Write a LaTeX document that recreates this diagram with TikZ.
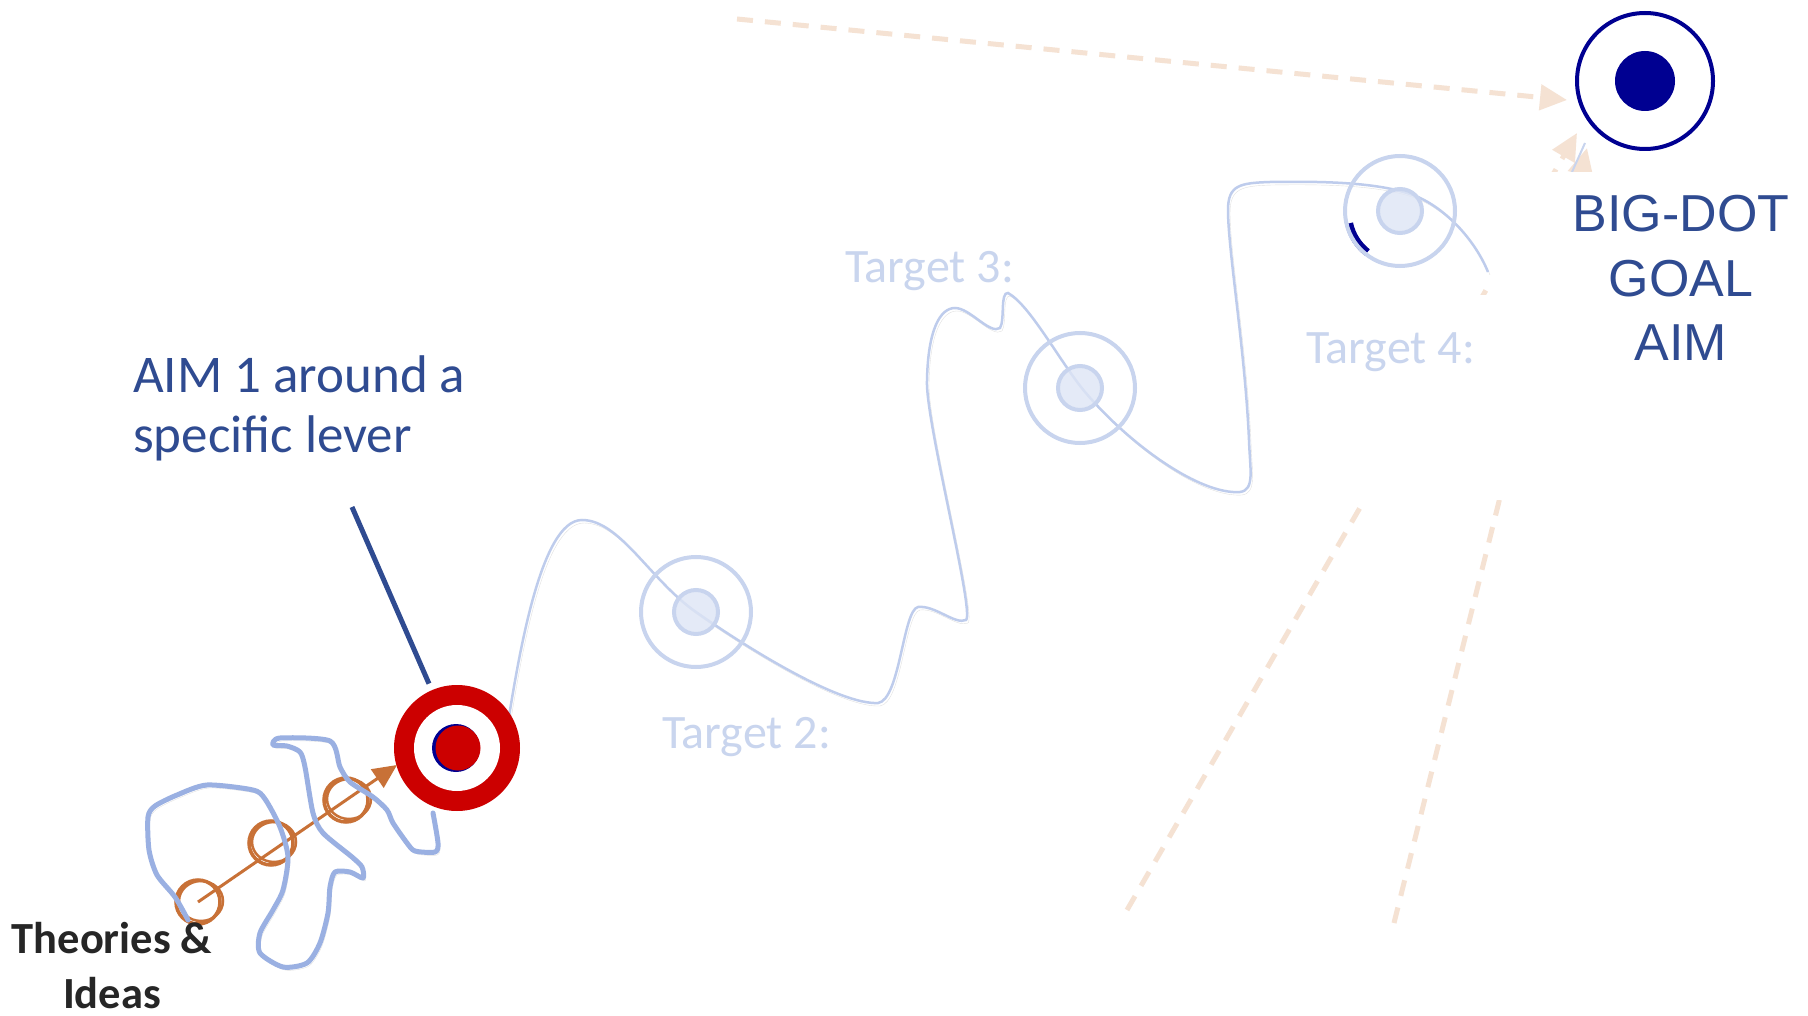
\documentclass[tikz,border=0pt]{standalone}
\usepackage{fontspec}
\setmainfont{Carlito}
\newfontfamily\arialf{Liberation Sans}
\usetikzlibrary{arrows.meta}
\definecolor{navy}{RGB}{0,0,145}
\definecolor{txtblue}{RGB}{47,75,145}
\definecolor{redt}{RGB}{204,0,0}
\definecolor{fadeline}{RGB}{200,212,238}
\definecolor{wavec}{RGB}{190,204,236}
\definecolor{fadefill}{RGB}{222,229,245}
\definecolor{fadetext}{RGB}{201,213,238}
\definecolor{peach}{RGB}{245,226,211}
\definecolor{orangeb}{RGB}{200,113,55}
\definecolor{blobc}{RGB}{154,176,226}
\definecolor{darktxt}{RGB}{38,38,38}
\tikzset{
  dashline/.style={peach, line width=5, dash pattern=on 16pt off 12pt},
  peachtip/.style={-{Triangle[length=27,width=25]}},
  fadering/.style={circle, draw=fadeline, line width=4, minimum size=110, inner sep=0, fill=white, fill opacity=0},
  fadedot/.style={circle, draw=fadeline, fill=fadefill, fill opacity=0.8, line width=4, minimum size=44, inner sep=0},
  oring/.style={circle, draw=orangeb, line width=3.5, minimum size=44, inner sep=0},
  shadowed/.style={preaction={draw=black, draw opacity=0.12, transform canvas={shift={(2pt,-3pt)}}}},
  fadelbl/.style={text=fadetext, font=\fontsize{48}{54}\selectfont, inner sep=0, anchor=base west},
  aimlbl/.style={text=txtblue, font=\fontsize{53}{60}\selectfont, inner sep=0, anchor=base west},
  goallbl/.style={text=txtblue, font=\arialf\fontsize{52}{58}\selectfont, inner sep=0, anchor=base},
  thlbl/.style={text=darktxt, font=\bfseries\fontsize{44.5}{50}\selectfont, inner sep=0, anchor=base},
}
\begin{document}
\begin{tikzpicture}[x=1pt,y=-1pt]
\useasboundingbox (0,0) rectangle (1808,1016);
\fill[white] (0,0) rectangle (1808,1016);

% big goal
\node[circle, draw=navy, line width=4, minimum size=136, inner sep=0] (goal) at (1645,81) {};
\node[circle, fill=navy, minimum size=60, inner sep=0] (goaldot) at (goal.center) {};

% peach dashed arrows
\coordinate (d1s) at (737,19);
\coordinate (d1e) at (1567,100);
\draw[dashline, peachtip] (d1s) -- (d1e);
\coordinate (d2s) at (1127,910);
\coordinate (d2e) at (1577,133);
\draw[dashline, peachtip] (d2s) -- (d2e);
\coordinate (d3s) at (1394,923);
\coordinate (d3e) at (1587,148);
\draw[dashline, peachtip] (d3s) -- (d3e);
\coordinate (bs1) at (1585,143);
\coordinate (bs2) at (1572,172);
\draw[fadeline, line width=2] (bs1) -- (bs2);

% white masks (text boxes hiding parts of the lines)
\fill[white] (1488,172) rectangle (1808,500);
\fill[white] (1290,295) rectangle (1488,505);

% wavy path
\draw[wavec, line width=2.5, shadowed]
  (506,735) .. controls (518,660) and (540,520) .. (582,520)
  .. controls (620,520) and (650,580) .. (696,612)
  .. controls (750,650) and (840,705) .. (878,703)
  .. controls (900,700) and (903,610) .. (918,607)
  .. controls (935,605) and (955,625) .. (966,620)
  .. controls (975,612) and (925,420) .. (927,380)
  .. controls (928,330) and (940,308) .. (955,308)
  .. controls (970,308) and (990,335) .. (1000,328)
  .. controls (1005,320) and (1000,292) .. (1008,293)
  .. controls (1030,305) and (1060,362) .. (1085,392)
  .. controls (1130,445) and (1200,495) .. (1240,492)
  .. controls (1255,490) and (1250,470) .. (1249,440)
  .. controls (1245,350) and (1228,250) .. (1228,210)
  .. controls (1228,185) and (1240,183) .. (1270,182)
  .. controls (1330,181) and (1380,183) .. (1413,195)
  .. controls (1445,207) and (1475,240) .. (1488,272);

% faded targets
\draw[navy, line width=8] (1398,213) ++(128:50) arc[start angle=128, end angle=168, radius=50];
\node[fadering] (t2) at (696,612) {};
\node[fadedot] (t2d) at (t2.center) {};
\node[fadering] (t3) at (1080,388) {};
\node[fadedot] (t3d) at (t3.center) {};
\node[fadering] (t4) at (1400,211) {};
\node[fadedot] (t4d) at (t4.center) {};

\node[fadelbl] (l2) at (662,748) {Target 2:};
\node[fadelbl] (l3) at (845,283) {Target 3:};
\node[fadelbl] (l4) at (1306,363) {Target 4:};

% red target
\node[circle, fill=redt, minimum size=126, inner sep=0] (t1) at (457,748) {};
\node[circle, fill=white, minimum size=86, inner sep=0] (t1w) at (t1.center) {};
\node[circle, fill=navy, minimum size=48, inner sep=0] (t1n) at (456,748) {};
\node[circle, fill=redt, minimum size=45, inner sep=0] (t1r) at (458,748) {};

% pointer line and AIM label
\coordinate (ptop) at (352,507);
\draw[txtblue, line width=5, shorten >=7pt] (ptop) -- (t1);
\node[aimlbl] (aim1) at (133,392) {AIM 1 around a};
\node[aimlbl] (aim2) at (133,452) {specific lever};

% orange rings and arrow
\node[oring] (r1) at (198,902) {};
\node[oring] (r2) at (271,843) {};
\node[oring] (r3) at (346,800) {};
\foreach \r in {r1,r2,r3}{
  \draw[orangeb, line width=2.5] ([shift={(3,-1)}]\r.center) ellipse [x radius=22, y radius=20];
}
\coordinate (oe) at (397,765);
\draw[orangeb, line width=3, -{Triangle[length=24,width=22]}] (r1.center) -- (oe);

% blob
\draw[blobc, line width=5, line join=round, line cap=round, shadowed] plot[smooth, tension=0.45] coordinates {
 (188,920) (175,897) (157,875) (149,850) (148,817) (155,806) (177,795) (207,785)
 (253,790) (265,799) (280,827) (288,857) (283,890) (273,910) (260,933) (260,953)
 (283,967) (307,963) (320,943) (328,913) (330,887) (335,872) (350,872) (363,878)
 (362,867) (352,857) (323,833) (313,813) (305,767) (300,752) (287,746) (273,745)
 (280,738) (330,741) (340,767) (350,782) (373,797) (387,810) (393,823) (407,843)
 (415,851) (435,852) (438,843) (433,813)};

% theories label
\node[thlbl] (th1) at (112,953) {Theories \&};
\node[thlbl] (th2) at (112,1008) {Ideas};

% goal label
\node[goallbl] (g1) at (1681,232) {BIG-DOT};
\node[goallbl] (g2) at (1681,297) {GOAL};
\node[goallbl] (g3) at (1681,361) {AIM};
\end{tikzpicture}
\end{document}
